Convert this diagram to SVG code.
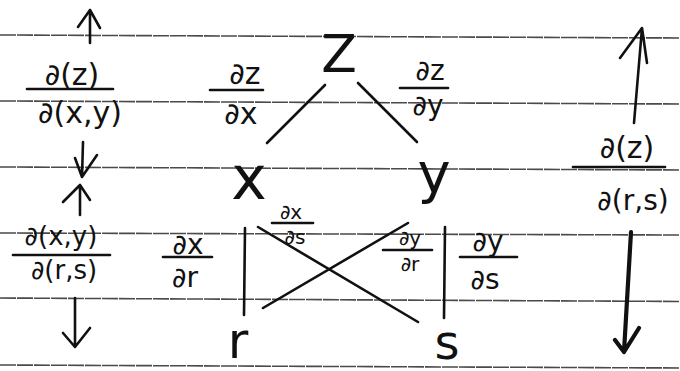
<svg xmlns="http://www.w3.org/2000/svg" width="680" height="371" viewBox="0 0 680 371">
<style>
.rule{stroke:#4a4a4a;stroke-width:1.6;stroke-dasharray:16 1;fill:none}
.ln{stroke:#111;stroke-width:2.6;fill:none;stroke-linecap:round;stroke-linejoin:round}
.thick{stroke-width:4.2}
text{font-family:"DejaVu Sans","Liberation Sans",sans-serif;fill:#111;text-anchor:middle}
.f30{font-size:30px}.f28{font-size:28px}.f26{font-size:26px}.f20{font-size:20px}
</style>
<rect width="680" height="371" fill="#fff"/>
<g id="paper-rules">
<line class="rule" x1="0" y1="35" x2="680" y2="38"/>
<line class="rule" x1="0" y1="101" x2="680" y2="104"/>
<line class="rule" x1="0" y1="167" x2="680" y2="170"/>
<line class="rule" x1="0" y1="233" x2="680" y2="235"/>
<line class="rule" x1="0" y1="298" x2="680" y2="301.5"/>
<line class="rule" x1="0" y1="365" x2="680" y2="368"/>
</g>
<g id="connectors">
<line class="ln" x1="325" y1="85" x2="267" y2="143"/>
<line class="ln" x1="358" y1="83" x2="417" y2="142"/>
<line class="ln" x1="245" y1="228" x2="244" y2="315"/>
<line class="ln" x1="445" y1="227" x2="444" y2="318"/>
<line class="ln" x1="258" y1="227" x2="418" y2="322"/>
<line class="ln" x1="263" y1="308" x2="408" y2="223"/>
</g>
<g id="arrows">
<path class="ln" d="M90,43 L90,10 M78,27 L90,10 L100,28"/>
<path class="ln" d="M83,142 L82,177 M75,158 L82,177 L97,155"/>
<path class="ln" d="M80,215 L80,185 M63,202 L80,185 L90,200"/>
<path class="ln" d="M75,298 L75,347 M63,333 L75,347 L90,328"/>
<path class="ln" d="M634,123 L642,28 M620,58 L642,28 L647,63"/>
<path class="ln thick" d="M631,232 L624,352 M615,340 L624,352 L639,328"/>
</g>
<g id="node-z"><text x="339" y="72" style="font-size:52px">Z</text></g>
<g id="node-x"><text x="249" y="199" style="font-size:60px">x</text></g>
<g id="node-y"><text x="434" y="192" style="font-size:56px">y</text></g>
<g id="node-r"><text x="238" y="358" style="font-size:50px">r</text></g>
<g id="node-s"><text x="447" y="359" style="font-size:48px">s</text></g>
<g id="label-dz-dxy">
<text class="f30" x="72" y="85">∂(z)</text>
<line class="ln" x1="27" y1="89" x2="113" y2="89"/>
<text class="f30" x="80" y="123">∂(x,y)</text>
</g>
<g id="label-dxy-drs">
<text class="f26" x="61" y="245">∂(x,y)</text>
<line class="ln" x1="13" y1="255" x2="110" y2="255"/>
<text class="f26" x="64" y="279">∂(r,s)</text>
</g>
<g id="label-dz-dx">
<text class="f30" x="245" y="84">∂z</text>
<line class="ln" x1="210" y1="90" x2="263" y2="90"/>
<text class="f30" x="241" y="124">∂x</text>
</g>
<g id="label-dz-dy">
<text class="f28" x="430" y="80">∂z</text>
<line class="ln" x1="400" y1="88" x2="448" y2="88"/>
<text class="f28" x="428" y="115">∂y</text>
</g>
<g id="label-dx-dr">
<text class="f28" x="188" y="254">∂x</text>
<line class="ln" x1="163" y1="257" x2="212" y2="257"/>
<text class="f28" x="185" y="287">∂r</text>
</g>
<g id="label-dx-ds">
<text class="f20" x="291" y="219">∂x</text>
<line class="ln" x1="272" y1="223" x2="313" y2="223"/>
<text class="f20" x="295" y="244">∂s</text>
</g>
<g id="label-dy-dr">
<text class="f20" x="410" y="245">∂y</text>
<line class="ln" x1="383" y1="250" x2="432" y2="250"/>
<text class="f20" x="410" y="271">∂r</text>
</g>
<g id="label-dy-ds">
<text class="f28" x="488" y="251">∂y</text>
<line class="ln" x1="460" y1="257" x2="517" y2="257"/>
<text class="f28" x="485" y="289">∂s</text>
</g>
<g id="label-dz-drs">
<text class="f30" x="627" y="158">∂(z)</text>
<line class="ln" x1="573" y1="167" x2="665" y2="167"/>
<text class="f28" x="633" y="210">∂(r,s)</text>
</g>
</svg>
